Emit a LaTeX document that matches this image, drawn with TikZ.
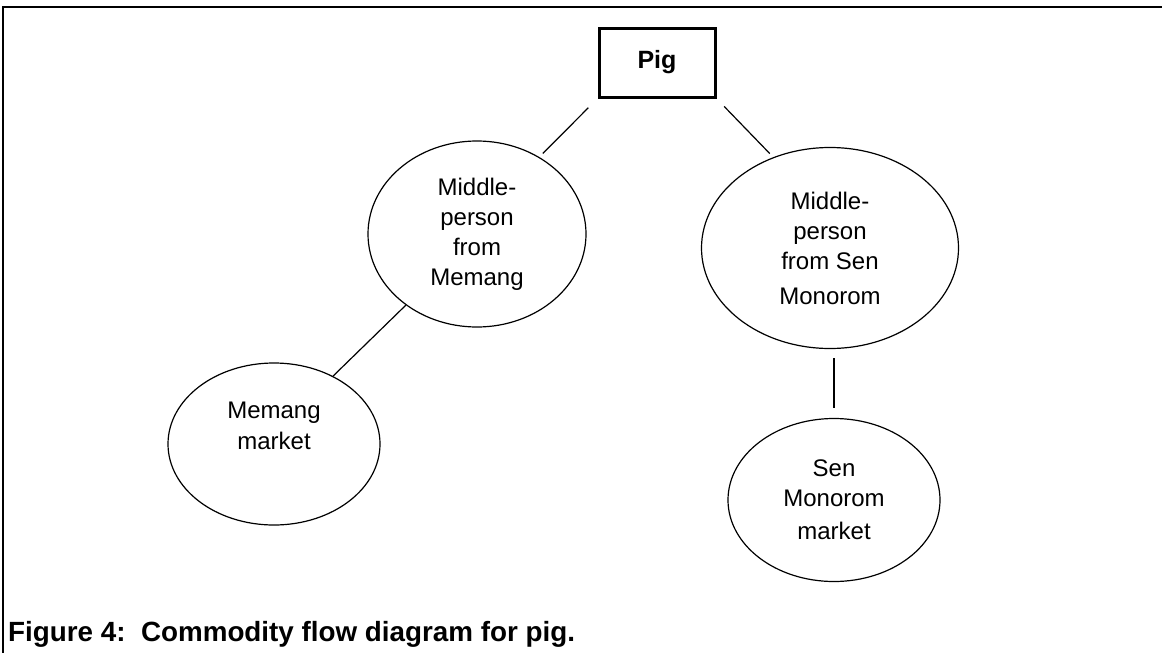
\documentclass[tikz,border=0pt]{standalone}
\usepackage{fontspec}
\setmainfont{Liberation Sans}
\usetikzlibrary{shapes.geometric,calc}

\tikzset{
  bubble/.style={draw, ellipse, line width=1.2pt, inner sep=0pt,
    align=center, font=\fontsize{24}{30}\selectfont},
  headbox/.style={draw, rectangle, line width=3pt, inner sep=0pt,
    minimum width=116pt, minimum height=69pt,
    font=\bfseries\fontsize{25}{30}\selectfont},
  link/.style={line width=1.2pt},
  frameline/.style={line width=1.5pt},
  caption/.style={font=\bfseries\fontsize{27.8}{32}\selectfont, inner sep=0pt, anchor=base west}
}

\begin{document}
\begin{tikzpicture}[x=1pt, y=-1pt]
  \useasboundingbox (0,0) rectangle (1162,653);

  % outer frame: left and top rules only
  \draw[frameline] (3,653) -- (3,7) -- (1162,7);

  % top of the chain
  \node[headbox] (pig) at (657,62.5) {Pig};

  % middle-persons
  \node[bubble, minimum width=218pt, minimum height=186pt] (mid1) at (477,234)
    {Middle-\\person\\from\\Memang};
  \node[bubble, minimum width=257pt, minimum height=201pt] (mid2) at (830,248)
    {Middle-\\person\\from Sen\\[5pt]Monorom};

  % markets
  \node[bubble, minimum width=212pt, minimum height=162pt,
    label={[align=center, font=\fontsize{24}{31}\selectfont, yshift=18pt]center:Memang\\market}]
    (mkt1) at (274,444) {};
  \node[bubble, minimum width=212pt, minimum height=163pt] (mkt2) at (834,500)
    {Sen\\Monorom\\[3pt]market};

  % flows
  \draw[link, shorten <=13pt, shorten >=5pt] (pig.south west) -- (mid1.51);
  \draw[link, shorten <=11pt, shorten >=5pt] (pig.south east) -- (mid2.122);
  \draw[link] (mid1.225) -- (mkt1.49);
  \draw[link, shorten <=10pt, shorten >=9pt] (mkt2.north) -- (mkt2.north |- mid2.south);

  % caption
  \node[caption] (cap) at (8,641) {Figure 4:\ \ Commodity flow diagram for pig.};
\end{tikzpicture}
\end{document}
